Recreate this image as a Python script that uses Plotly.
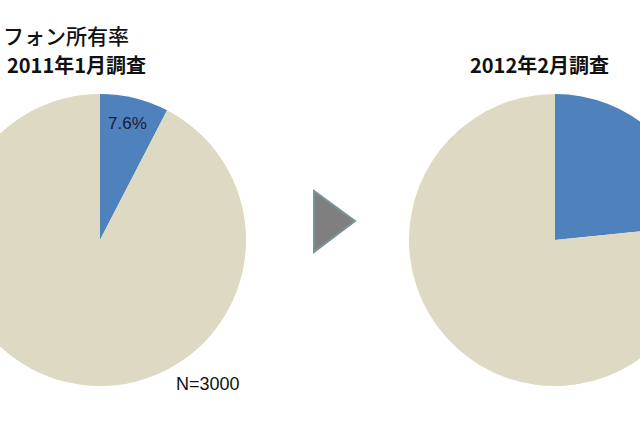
import plotly.graph_objects as go

# survey data: smartphone ownership share
surveys = ["2011年1月調査", "2012年2月調査"]
owners = [7.6, 23.4]
labels = ["所有", "非所有"]
sample_note = "N=3000"
title_text = "フォン所有率"

BLUE = "#4F81BD"
BEIGE = "#DDD9C3"
JP_FONT = "Noto Sans CJK JP"

# figure is wider than the window and shifted left, so both pies get cut
W, H = 760, 426
SHIFT = 55
R = 146


def dom_x(cx):
    return [(cx - R) / W, (cx + R) / W]


def dom_y(cy):
    return [(H - cy - R) / H, (H - cy + R) / H]


def px(x):
    return x / W


def py(y):
    return (H - y) / H


centers = [(155, 240), (610, 240)]

fig = go.Figure()
for name, val, (cx, cy) in zip(surveys, owners, centers):
    fig.add_trace(go.Pie(
        labels=labels, values=[val, 100 - val], name=name,
        marker=dict(colors=[BLUE, BEIGE], line=dict(width=0)),
        sort=False, direction="clockwise", rotation=0,
        textinfo="none", hoverinfo="label+percent",
        domain=dict(x=dom_x(cx), y=dom_y(cy)),
    ))

ann = []
ann.append(dict(text=title_text, x=px(SHIFT + 1), y=py(35), xanchor="left", yanchor="middle",
                font=dict(family=JP_FONT, size=21, color="#111111", weight=500)))
for name, (cx, cy) in zip(surveys, [(131, 65), (594, 65)]):
    ann.append(dict(text="<b>" + name + "</b>", x=px(cx), y=py(cy), xanchor="center",
                    yanchor="middle", font=dict(family=JP_FONT, size=20, color="#111111")))
ann.append(dict(text=f"{owners[0]}%", x=px(182), y=py(124), xanchor="center", yanchor="middle",
                font=dict(family="Liberation Sans, Arial", size=17, color="#1a1a38")))
ann.append(dict(text=sample_note, x=px(263), y=py(384), xanchor="center", yanchor="middle",
                font=dict(family="Liberation Sans, Arial", size=18, color="#111111")))
for a in ann:
    a.update(xref="paper", yref="paper", showarrow=False)

# arrow between the two pies
tri = [(369, 191), (369, 252), (410, 221)]
path = "M " + " L ".join(f"{px(x)},{py(y)}" for x, y in tri) + " Z"
fig.add_shape(type="path", path=path, xref="paper", yref="paper",
              fillcolor="#7f7f7f", line=dict(color="#7c939a", width=2))

fig.update_layout(
    width=W, height=H, autosize=False,
    margin=dict(l=0, r=0, t=0, b=0),
    paper_bgcolor="white", plot_bgcolor="white",
    showlegend=False, annotations=ann,
)

shift_js = ("var d=document.getElementById('{plot_id}');"
            "d.style.position='absolute';d.style.left='-%dpx';d.style.top='0px';"
            "document.body.style.overflow='hidden';document.body.style.margin='0';") % SHIFT
fig.write_html("out.html", post_script=shift_js)
